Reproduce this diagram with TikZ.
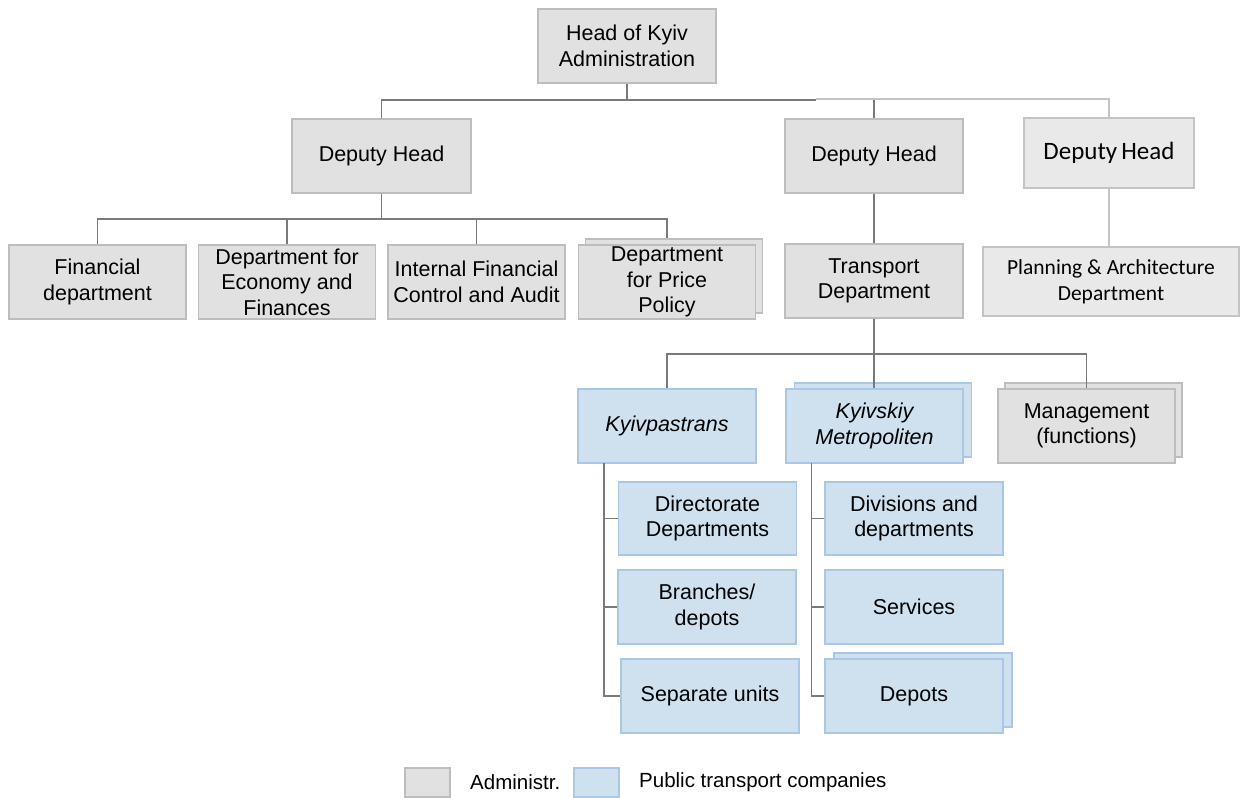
\documentclass[tikz,border=0pt]{standalone}
\usepackage{fontspec}
\setmainfont{Liberation Sans}
\newfontfamily\carlito{Carlito}
\definecolor{admfill}{HTML}{E1E1E1}
\definecolor{admline}{HTML}{BDBDBD}
\definecolor{ptcfill}{HTML}{CFE0EF}
\definecolor{ptcline}{HTML}{A9C7E6}
\definecolor{litefill}{HTML}{E9E9E9}
\definecolor{liteline}{HTML}{C4C4C4}
\definecolor{connc}{HTML}{7A7A7A}
\tikzset{
  adm/.style={draw=admline, fill=admfill, line width=1.2pt, minimum width=177pt, minimum height=74pt,
    inner sep=0pt, align=center, font=\fontsize{21.5}{25.5}\selectfont},
  ptc/.style={adm, draw=ptcline, fill=ptcfill},
  lite/.style={adm, draw=liteline, fill=litefill},
  conn/.style={draw=connc, line width=1.4pt},
  connlite/.style={draw=liteline, line width=1.6pt},
  legtext/.style={anchor=west, inner sep=0pt, font=\fontsize{20.5}{24}\selectfont}
}
\begin{document}
\begin{tikzpicture}[x=1pt,y=-1pt]
\useasboundingbox (0,0) rectangle (1240,798);
% top levels
\node[adm, minimum width=178pt] (head) at (627,46) {Head of Kyiv\\Administration};
\node[adm, minimum width=179pt] (d1) at (381.5,156) {Deputy Head};
\node[adm, minimum width=178pt] (d2) at (874,156) {Deputy Head};
\node[lite, minimum width=170pt, minimum height=70pt, font=\carlito\fontsize{25}{28}\selectfont] (d3) at (1109,153) {Deputy\,Head};
% department row
\node[adm] (fin) at (97.5,282) {Financial\\department};
\node[adm] (eco) at (287,282) {Department for\\Economy and\\Finances};
\node[adm] (ifc) at (476.5,282) {Internal Financial\\Control and Audit};
\node[adm] (priceb) at (674,276) {};
\node[adm] (price) at (667,282) {Department\\for Price\\Policy};
\node[adm, minimum width=178pt] (tr) at (874,281) {Transport\\Department};
\node[lite, minimum width=256pt, minimum height=69pt, font=\carlito\fontsize{21.5}{26}\selectfont] (pl) at (1111,281.5) {Planning \& Architecture\\Department};
% transport companies
\node[ptc, minimum width=178pt] (kp) at (667,426) {\itshape Kyivpastrans};
\node[ptc] (kmb) at (883,420) {};
\node[ptc] (km) at (874.5,426) {\itshape Kyivskiy\\\itshape Metropoliten};
\node[adm] (mgb) at (1093.5,420) {};
\node[adm] (mg) at (1086.5,426) {Management\\(functions)};
% Kyivpastrans units
\node[ptc, minimum width=178pt, minimum height=73pt] (dir) at (707.5,518.5) {Directorate\\Departments};
\node[ptc, minimum width=178pt] (br) at (707,607) {Branches/\\depots};
\node[ptc, minimum width=178pt] (sep) at (710,696) {Separate units};
% Metropoliten units
\node[ptc, minimum width=178pt, minimum height=73pt] (div) at (914,518.5) {Divisions and\\departments};
\node[ptc, minimum width=178pt] (srv) at (914,607) {Services};
\node[ptc, minimum width=178pt] (depb) at (923,690) {};
\node[ptc, minimum width=178pt] (dep) at (914,696) {Depots};
% connectors: head to deputies
\coordinate (b1) at (816,100);
\coordinate (b2) at (816,99);
\draw[conn] (head.south) -- (head.south |- b1);
\draw[conn] (d1.north) |- (b1);
\draw[conn] (d2.north) -- (d2.north |- b2);
\draw[connlite] (b2) -| (d3.north);
% deputy 1 to departments
\coordinate (c1) at (381.5,219);
\draw[conn] (d1.south) -- (c1);
\draw[conn] (fin.north) |- (c1);
\draw[conn] (eco.north) -- (eco.north |- c1);
\draw[conn] (ifc.north) -- (ifc.north |- c1);
\draw[conn] (priceb.north -| price.north) |- (c1);
% deputy 2 and 3
\draw[conn] (d2.south) -- (tr.north);
\draw[connlite] (d3.south) -- (d3.south |- pl.north);
% transport to companies
\coordinate (t1) at (874,354);
\draw[conn] (tr.south) -- (t1);
\draw[conn] (kp.north) |- (t1);
\draw[conn] (km.north -| t1) -- (t1);
\draw[conn] (mg.north) |- (t1);
% Kyivpastrans spine
\coordinate (s1) at (604,463);
\draw[conn] (s1) |- (sep.west);
\draw[conn] (s1 |- dir.west) -- (dir.west);
\draw[conn] (s1 |- br.west) -- (br.west);
% Metropoliten spine
\coordinate (s2) at (811.5,463);
\draw[conn] (s2) |- (dep.west);
\draw[conn] (s2 |- div.west) -- (div.west);
\draw[conn] (s2 |- srv.west) -- (srv.west);
% legend
\node[adm, minimum width=45pt, minimum height=29pt] (lg1) at (427.5,782.5) {};
\node[legtext] (lt1) at (470,782.5) {Administr.};
\node[ptc, minimum width=45pt, minimum height=29pt] (lg2) at (596.5,782.5) {};
\node[legtext] (lt2) at (639,782.5) {Public transport companies};
\end{tikzpicture}
\end{document}
